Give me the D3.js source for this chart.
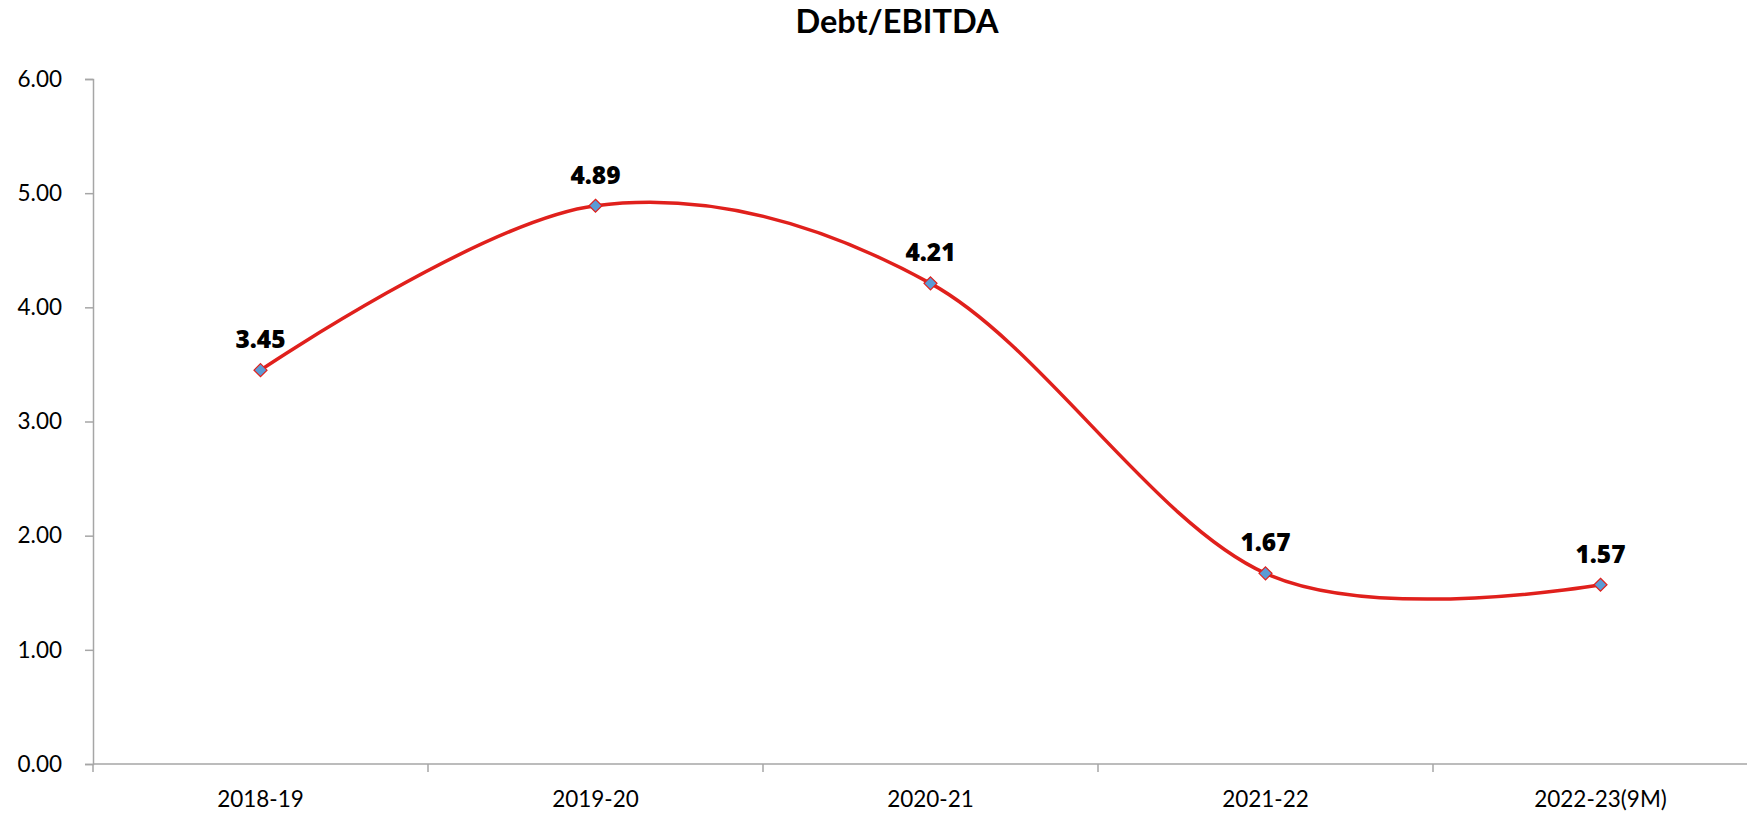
<!DOCTYPE html>
<html>
<head>
<meta charset="utf-8">
<script src="https://cdn.jsdelivr.net/npm/d3@7"></script>
<style>
  body { margin: 0; background: #fff; }
  svg { display: block; }
  .axis path, .axis line { stroke: #a6a6a6; stroke-width: 1.5; }
  .axis text { font-family: Lato, sans-serif; font-size: 22.5px; fill: #000; }
</style>
</head>
<body>
<svg id="chart"></svg>
<script>
// data
var years = ["2018-19", "2019-20", "2020-21", "2021-22", "2022-23(9M)"];
var ratio = [3.45, 4.89, 4.21, 1.67, 1.57];
var yTicks = [0, 1, 2, 3, 4, 5, 6];

var width = 1747, height = 815;
// plot edges (note: "top" would clash with window.top)
var plot = {left: 93, right: 1768, top: 79, bottom: 764};

var svg = d3.select("#chart")
    .attr("width", width)
    .attr("height", height);

var x = d3.scaleBand()
    .domain(years)
    .range([plot.left, plot.right]);

var y = d3.scaleLinear()
    .domain([0, 6])
    .range([plot.bottom, plot.top]);

// title
svg.append("text")
    .attr("x", 897)
    .attr("y", 33)
    .attr("text-anchor", "middle")
    .style("font-family", "Lato, sans-serif")
    .style("font-weight", "bold")
    .style("font-size", "32.5px")
    .text("Debt/EBITDA");

// y axis
svg.append("g")
    .attr("class", "axis")
    .attr("transform", "translate(" + plot.left + ",0)")
    .call(d3.axisLeft(y)
        .tickValues(yTicks)
        .tickFormat(d3.format(".2f"))
        .tickSize(8)
        .tickPadding(23));

// x axis, labels centred in bands, ticks on band edges
var xAxis = svg.append("g")
    .attr("class", "axis")
    .attr("transform", "translate(0," + plot.bottom + ")")
    .call(d3.axisBottom(x).tickSize(0).tickPadding(27));
xAxis.select(".domain").attr("d", "M" + plot.left + ",0H" + plot.right);

xAxis.selectAll(".edge")
    .data(d3.range(years.length + 1))
    .enter().append("line")
    .attr("class", "edge")
    .attr("x1", function(i) { return plot.left + i * x.step(); })
    .attr("x2", function(i) { return plot.left + i * x.step(); })
    .attr("y1", 0)
    .attr("y2", 8);

var pts = years.map(function(d, i) {
    return [x(d) + x.bandwidth() / 2, y(ratio[i])];
});

// smoothed line
var line = d3.line().curve(d3.curveCardinal.tension(0));
svg.append("path")
    .attr("d", line(pts))
    .attr("fill", "none")
    .attr("stroke", "#e0201c")
    .attr("stroke-width", 3.5);

// diamond markers
svg.selectAll(".marker")
    .data(pts)
    .enter().append("path")
    .attr("class", "marker")
    .attr("transform", function(d) { return "translate(" + d[0] + "," + d[1] + ")"; })
    .attr("d", "M0,-6.5L6.5,0L0,6.5L-6.5,0Z")
    .attr("fill", "#5b9bd5")
    .attr("stroke", "#e0201c")
    .attr("stroke-width", 1.2);

// data labels
svg.selectAll(".label")
    .data(pts)
    .enter().append("text")
    .attr("class", "label")
    .attr("x", function(d) { return d[0]; })
    .attr("y", function(d) { return d[1] - 22; })
    .attr("text-anchor", "middle")
    .style("font-family", "'Open Sans', sans-serif")
    .style("font-weight", "800")
    .style("font-size", "24.5px")
    .text(function(d, i) { return ratio[i].toFixed(2); });
</script>
</body>
</html>
